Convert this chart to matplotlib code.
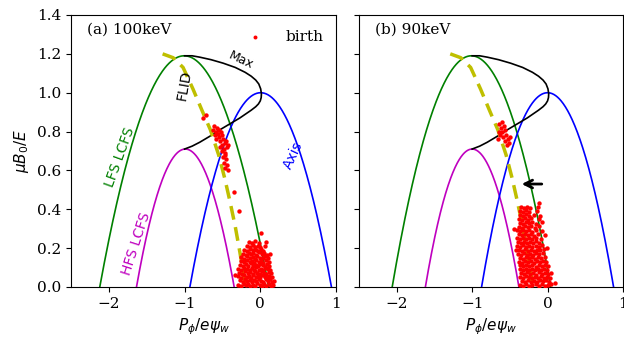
import numpy as np
import matplotlib.pyplot as plt

plt.rcParams['font.family'] = 'DejaVu Serif'
plt.rcParams['mathtext.fontset'] = 'dejavusans'

# boundary parabolas: (centre, peak, half width) per panel
lfs_lcfs = {'a': (-1.005, 1.19, 1.115), 'b': (-1.01, 1.19, 1.05)}
hfs_lcfs = {'a': (-0.99, 0.71, 0.645), 'b': (-1.00, 0.71, 0.62)}
axis_orbit = {'a': (0.005, 1.00, 0.935), 'b': (0.00, 1.00, 0.875)}

# FLID acceptance line
fild_x = [-1.29, -1.15, -1.02, -0.89, -0.76, -0.66, -0.55, -0.47, -0.40, -0.33, -0.27, -0.21, -0.19]
fild_y = [1.20, 1.18, 1.13, 1.02, 0.90, 0.81, 0.68, 0.56, 0.44, 0.31, 0.18, 0.04, 0.0]

# maximum mu line
max_x = [-1.00, -0.90, -0.80, -0.65, -0.49, -0.33, -0.20, -0.12, -0.06, -0.02, 0.005, 0.015,
         0.012, 0.0, -0.025, -0.06, -0.12, -0.27, -0.40, -0.53, -0.67, -0.80, -0.90, -1.00]
max_y = [1.19, 1.19, 1.183, 1.17, 1.152, 1.13, 1.105, 1.085, 1.065, 1.045, 1.02, 0.995,
         0.975, 0.958, 0.942, 0.928, 0.91, 0.87, 0.84, 0.81, 0.775, 0.745, 0.725, 0.71]

# birth points, 100 keV
birth_a = [
    (-0.29, 0.012), (-0.25, 0.004), (-0.22, 0.018), (-0.19, 0.008), (-0.16, 0.015), (-0.13, 0.003),
    (-0.10, 0.011), (-0.07, 0.006), (-0.04, 0.019), (-0.01, 0.009), (0.02, 0.004), (0.05, 0.016),
    (0.08, 0.007), (0.11, 0.013), (0.14, 0.005), (0.17, 0.010),
    (-0.27, 0.034), (-0.23, 0.027), (-0.20, 0.041), (-0.17, 0.030), (-0.14, 0.038), (-0.11, 0.025),
    (-0.08, 0.036), (-0.05, 0.029), (-0.02, 0.043), (0.01, 0.032), (0.04, 0.026), (0.07, 0.039),
    (0.10, 0.031), (0.13, 0.042), (0.16, 0.028),
    (-0.30, 0.055), (-0.26, 0.048), (-0.21, 0.061), (-0.18, 0.052), (-0.15, 0.058), (-0.12, 0.047),
    (-0.09, 0.063), (-0.06, 0.051), (-0.03, 0.057), (0.00, 0.049), (0.03, 0.062), (0.06, 0.053),
    (0.09, 0.046), (0.12, 0.059), (0.15, 0.050),
    (-0.28, 0.074), (-0.24, 0.068), (-0.20, 0.080), (-0.16, 0.071), (-0.13, 0.077), (-0.10, 0.066),
    (-0.07, 0.083), (-0.04, 0.072), (-0.01, 0.069), (0.02, 0.081), (0.05, 0.073), (0.08, 0.067),
    (0.11, 0.079), (0.14, 0.070),
    (-0.29, 0.094), (-0.25, 0.088), (-0.21, 0.099), (-0.18, 0.091), (-0.14, 0.086), (-0.11, 0.097),
    (-0.08, 0.090), (-0.05, 0.102), (-0.02, 0.087), (0.01, 0.095), (0.04, 0.089), (0.07, 0.100),
    (0.10, 0.092), (0.13, 0.085),
    (-0.27, 0.113), (-0.23, 0.107), (-0.19, 0.118), (-0.16, 0.110), (-0.12, 0.121), (-0.09, 0.106),
    (-0.06, 0.115), (-0.03, 0.109), (0.00, 0.120), (0.03, 0.112), (0.06, 0.105), (0.09, 0.117),
    (0.12, 0.108),
    (-0.26, 0.133), (-0.22, 0.127), (-0.18, 0.139), (-0.14, 0.130), (-0.11, 0.136), (-0.08, 0.125),
    (-0.05, 0.141), (-0.02, 0.128), (0.01, 0.134), (0.04, 0.126), (0.07, 0.138), (0.11, 0.131),
    (-0.25, 0.152), (-0.21, 0.146), (-0.17, 0.158), (-0.13, 0.149), (-0.10, 0.155), (-0.07, 0.145),
    (-0.04, 0.160), (-0.01, 0.151), (0.03, 0.147), (0.06, 0.157), (0.10, 0.150),
    (-0.23, 0.171), (-0.19, 0.166), (-0.15, 0.177), (-0.12, 0.169), (-0.09, 0.174), (-0.05, 0.165),
    (-0.02, 0.179), (0.02, 0.168), (0.05, 0.173), (0.09, 0.164),
    (-0.21, 0.191), (-0.17, 0.185), (-0.13, 0.196), (-0.10, 0.188), (-0.06, 0.193), (-0.03, 0.184),
    (0.01, 0.197), (0.04, 0.187),
    (-0.18, 0.211), (-0.14, 0.205), (-0.10, 0.216), (-0.07, 0.208), (-0.03, 0.213), (0.00, 0.204),
    (0.06, 0.209),
    (-0.15, 0.231), (-0.11, 0.226), (-0.07, 0.237), (-0.02, 0.228),
    (0.01, 0.28), (0.08, 0.232), (0.13, 0.17), (-0.33, 0.06), (0.18, 0.03),
    (-0.35, 0.49), (-0.28, 0.39),
    (-0.72, 0.885), (-0.75, 0.87), (-0.63, 0.81), (-0.61, 0.83), (-0.59, 0.80), (-0.57, 0.82),
    (-0.60, 0.78), (-0.56, 0.79), (-0.54, 0.81), (-0.58, 0.76), (-0.55, 0.77), (-0.52, 0.80),
    (-0.53, 0.75), (-0.50, 0.78), (-0.49, 0.76), (-0.51, 0.73), (-0.47, 0.74), (-0.45, 0.75),
    (-0.48, 0.71), (-0.44, 0.72), (-0.42, 0.73), (-0.50, 0.70), (-0.46, 0.69), (-0.49, 0.67),
    (-0.45, 0.66), (-0.48, 0.64), (-0.44, 0.63), (-0.47, 0.61), (-0.43, 0.60), (-0.46, 0.68),
    (-0.53, 0.72),
]

# birth points, 90 keV
birth_b = [
    (-0.36, 0.012), (-0.32, 0.006), (-0.28, 0.015), (-0.24, 0.004), (-0.20, 0.010), (-0.16, 0.017),
    (-0.12, 0.007), (-0.08, 0.013), (-0.04, 0.005), (0.00, 0.011), (0.04, 0.016),
    (-0.34, 0.031), (-0.30, 0.026), (-0.26, 0.036), (-0.22, 0.028), (-0.18, 0.033), (-0.14, 0.024),
    (-0.10, 0.035), (-0.06, 0.029), (-0.02, 0.034), (0.02, 0.027),
    (-0.37, 0.052), (-0.33, 0.046), (-0.29, 0.055), (-0.25, 0.049), (-0.21, 0.044), (-0.17, 0.054),
    (-0.13, 0.047), (-0.09, 0.056), (-0.05, 0.048), (-0.01, 0.053), (0.03, 0.045),
    (-0.35, 0.071), (-0.31, 0.066), (-0.27, 0.075), (-0.23, 0.068), (-0.19, 0.073), (-0.15, 0.064),
    (-0.11, 0.076), (-0.07, 0.069), (-0.03, 0.072), (0.01, 0.067),
    (-0.37, 0.092), (-0.33, 0.086), (-0.29, 0.094), (-0.25, 0.088), (-0.21, 0.095), (-0.17, 0.085),
    (-0.13, 0.091), (-0.09, 0.087), (-0.05, 0.093), (-0.01, 0.089),
    (-0.36, 0.111), (-0.32, 0.106), (-0.28, 0.114), (-0.24, 0.108), (-0.20, 0.113), (-0.16, 0.105),
    (-0.12, 0.112), (-0.08, 0.107), (-0.04, 0.115), (0.00, 0.109),
    (-0.38, 0.131), (-0.34, 0.126), (-0.30, 0.135), (-0.26, 0.128), (-0.22, 0.133), (-0.18, 0.125),
    (-0.14, 0.134), (-0.10, 0.127), (-0.06, 0.132), (-0.02, 0.129),
    (-0.37, 0.151), (-0.33, 0.145), (-0.29, 0.154), (-0.25, 0.147), (-0.21, 0.152), (-0.17, 0.146),
    (-0.13, 0.155), (-0.09, 0.148), (-0.04, 0.153),
    (-0.39, 0.171), (-0.35, 0.165), (-0.31, 0.174), (-0.27, 0.167), (-0.23, 0.172), (-0.19, 0.166),
    (-0.15, 0.175), (-0.11, 0.168), (-0.06, 0.173),
    (-0.38, 0.191), (-0.34, 0.186), (-0.30, 0.194), (-0.26, 0.187), (-0.22, 0.193), (-0.18, 0.185),
    (-0.14, 0.192), (-0.10, 0.188), (-0.05, 0.195),
    (-0.40, 0.211), (-0.36, 0.206), (-0.32, 0.214), (-0.28, 0.207), (-0.24, 0.213), (-0.20, 0.205),
    (-0.16, 0.212), (-0.12, 0.208), (-0.07, 0.215),
    (-0.39, 0.231), (-0.35, 0.225), (-0.31, 0.234), (-0.27, 0.228), (-0.23, 0.232), (-0.19, 0.226),
    (-0.15, 0.235), (-0.11, 0.227),
    (-0.40, 0.251), (-0.36, 0.246), (-0.32, 0.254), (-0.28, 0.247), (-0.24, 0.253), (-0.20, 0.245),
    (-0.16, 0.252), (-0.09, 0.248),
    (-0.38, 0.271), (-0.34, 0.266), (-0.30, 0.274), (-0.26, 0.267), (-0.22, 0.273), (-0.18, 0.265),
    (-0.13, 0.272),
    (-0.40, 0.291), (-0.36, 0.286), (-0.32, 0.294), (-0.28, 0.287), (-0.24, 0.293), (-0.20, 0.285),
    (-0.15, 0.292), (-0.08, 0.288),
    (-0.38, 0.311), (-0.34, 0.306), (-0.30, 0.314), (-0.26, 0.307), (-0.22, 0.313), (-0.17, 0.305),
    (-0.11, 0.312),
    (-0.37, 0.331), (-0.33, 0.326), (-0.29, 0.334), (-0.25, 0.327), (-0.21, 0.333), (-0.16, 0.325),
    (-0.07, 0.332),
    (-0.38, 0.351), (-0.34, 0.346), (-0.30, 0.354), (-0.26, 0.347), (-0.22, 0.353), (-0.12, 0.348),
    (-0.36, 0.371), (-0.32, 0.366), (-0.28, 0.374), (-0.24, 0.367), (-0.18, 0.372), (-0.10, 0.368),
    (-0.37, 0.391), (-0.33, 0.386), (-0.29, 0.394), (-0.25, 0.387), (-0.14, 0.392),
    (-0.35, 0.411), (-0.31, 0.406), (-0.27, 0.414), (-0.23, 0.407), (-0.13, 0.412),
    (-0.12, 0.43),
    (0.10, 0.02), (-0.44, 0.30), (-0.42, 0.19), (0.04, 0.07), (-0.01, 0.20), (-0.04, 0.27),
    (-0.64, 0.84), (-0.61, 0.85), (-0.62, 0.82), (-0.58, 0.83), (-0.65, 0.80), (-0.60, 0.80),
    (-0.56, 0.81), (-0.63, 0.78), (-0.59, 0.77), (-0.55, 0.78), (-0.57, 0.75), (-0.53, 0.76),
    (-0.51, 0.74), (-0.54, 0.73), (-0.50, 0.77), (-0.66, 0.76),
]

fig = plt.figure(figsize=(6.24, 3.37), dpi=100)
ax1 = fig.add_axes([71 / 624, 50 / 337, 265 / 624, 272 / 337])
ax2 = fig.add_axes([359 / 624, 50 / 337, 264 / 624, 272 / 337], sharey=ax1)


def parabola(ax, params, color):
    c, peak, h = params
    x = np.linspace(c - h, c + h, 300)
    ax.plot(x, peak * (1 - ((x - c) / h) ** 2), color=color, lw=1.2)


for ax, key, pts in [(ax1, 'a', birth_a), (ax2, 'b', birth_b)]:
    parabola(ax, lfs_lcfs[key], 'g')
    parabola(ax, hfs_lcfs[key], 'm')
    parabola(ax, axis_orbit[key], 'b')
    ax.plot(max_x, max_y, color='k', lw=1.2, solid_joinstyle='round')
    ax.plot(fild_x, fild_y, color='y', lw=2.5, ls=(0, (4, 2.2)))
    bx, by = zip(*pts)
    ax.scatter(bx, by, s=10, color='red', linewidths=0, zorder=3, label='birth')
    ax.set_xlim(-2.5, 1)
    ax.set_ylim(0, 1.4)
    ax.set_xticks([-2, -1, 0, 1])
    ax.set_xlabel(r'$P_\phi/e\psi_w$', fontsize=11)
    ax.tick_params(labelsize=11)

ax1.set_yticks(np.arange(0, 1.41, 0.2))
ax1.set_ylabel(r'$\mu B_0/E$', fontsize=11)
plt.setp(ax2.get_yticklabels(), visible=False)

ax1.text(0.06, 0.945, '(a) 100keV', transform=ax1.transAxes, fontsize=11, va='center')
ax2.text(0.06, 0.945, '(b) 90keV', transform=ax2.transAxes, fontsize=11, va='center')
ax1.legend(loc='upper right', bbox_to_anchor=(0.995, 0.985), frameon=False, fontsize=11,
           handletextpad=1.0, borderaxespad=0.3, markerscale=0.9)

# curve labels
ax1.text(-1.86, 0.67, 'LFS LCFS', color='g', rotation=70, family='DejaVu Sans',
         fontsize=10, ha='center', va='center')
ax1.text(-1.64, 0.225, 'HFS LCFS', color='m', rotation=72, family='DejaVu Sans',
         fontsize=10, ha='center', va='center')
ax1.text(0.44, 0.68, 'Axis', color='b', rotation=65, family='DejaVu Sans',
         fontsize=10, ha='center', va='center')
ax1.text(-1.0, 1.04, 'FLID', color='k', rotation=80, family='DejaVu Sans',
         fontsize=10, ha='center', va='center')
ax1.text(-0.25, 1.165, 'Max', color='k', rotation=-25, family='DejaVu Sans',
         fontsize=9, ha='center', va='center')

ax2.annotate('', xy=(-0.38, 0.53), xytext=(-0.04, 0.53),
             arrowprops=dict(arrowstyle='->', color='k', lw=2, mutation_scale=14))

fig.savefig('out.png', dpi=100)
